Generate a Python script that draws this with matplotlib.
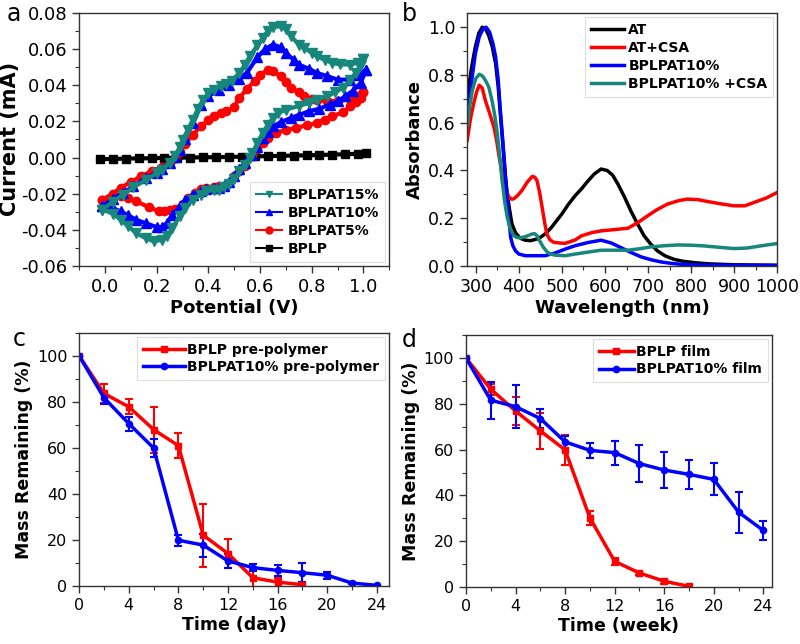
import matplotlib
matplotlib.use("Agg")
import matplotlib.pyplot as plt
from matplotlib.ticker import MultipleLocator

plt.rcParams["font.family"] = "DejaVu Sans"
plt.rcParams["axes.unicode_minus"] = False

TEAL = "#17877b"
RED = "#ff0000"
BLUE = "#0000ff"
BLACK = "#000000"

# ── (a) cyclic voltammetry: forward (upper) and reverse (lower) branches ──
E15_fwd = [-0.01, 0.03, 0.07, 0.11, 0.16, 0.20, 0.22, 0.25, 0.27, 0.29, 0.30, 0.32, 0.34, 0.36, 0.38, 0.40,
           0.42, 0.45, 0.47, 0.49, 0.52, 0.54, 0.56, 0.59, 0.61, 0.63, 0.65, 0.68, 0.70, 0.72, 0.75, 0.77,
           0.80, 0.82, 0.85, 0.88, 0.91, 0.95, 0.98, 1.00]
I15_fwd = [-0.0288, -0.0245, -0.0205, -0.0165, -0.0122, -0.0088, -0.0067, -0.0030, 0.0007, 0.0060, 0.0099,
           0.0150, 0.0210, 0.0270, 0.0320, 0.0355, 0.0375, 0.0395, 0.0405, 0.0425, 0.0468, 0.0510, 0.0560,
           0.0620, 0.0660, 0.0700, 0.0722, 0.0726, 0.0710, 0.0671, 0.0625, 0.0606, 0.0580, 0.0560, 0.0540,
           0.0523, 0.0515, 0.0514, 0.0525, 0.0545]
E15_rev = [1.00, 0.99, 0.97, 0.95, 0.92, 0.89, 0.86, 0.82, 0.79, 0.75, 0.70, 0.67, 0.65, 0.63, 0.61, 0.59,
           0.57, 0.56, 0.54, 0.52, 0.50, 0.48, 0.46, 0.44, 0.42, 0.39, 0.37, 0.34, 0.31, 0.29, 0.26, 0.24,
           0.22, 0.19, 0.16, 0.12, 0.09, 0.06, 0.03, -0.01]
I15_rev = [0.0545, 0.0510, 0.0468, 0.0430, 0.0385, 0.0360, 0.0339, 0.0320, 0.0302, 0.0285, 0.0265, 0.0245,
           0.0219, 0.0180, 0.0136, 0.0080, 0.0025, -0.0005, -0.0040, -0.0075, -0.0120, -0.0145, -0.0165,
           -0.0178, -0.0180, -0.0187, -0.0205, -0.0233, -0.0280, -0.0325, -0.0390, -0.0436, -0.0455, -0.0464,
           -0.0448, -0.0418, -0.0380, -0.0344, -0.0310, -0.0288]

E10_fwd = [-0.01, 0.03, 0.07, 0.11, 0.16, 0.20, 0.22, 0.25, 0.27, 0.29, 0.31, 0.34, 0.37, 0.40, 0.44, 0.48,
           0.52, 0.55, 0.59, 0.62, 0.65, 0.68, 0.70, 0.73, 0.75, 0.79, 0.82, 0.86, 0.90, 0.95, 0.98, 1.01]
I10_fwd = [-0.0270, -0.0230, -0.0196, -0.0158, -0.0113, -0.0085, -0.0063, -0.0030, 0.0003, 0.0040, 0.0100,
           0.0191, 0.0293, 0.0339, 0.0372, 0.0400, 0.0435, 0.0470, 0.0555, 0.0600, 0.0625, 0.0610, 0.0579,
           0.0540, 0.0514, 0.0490, 0.0468, 0.0450, 0.0431, 0.0431, 0.0455, 0.0486]
E10_rev = [1.01, 0.99, 0.96, 0.93, 0.90, 0.87, 0.83, 0.79, 0.75, 0.72, 0.68, 0.65, 0.63, 0.61, 0.59, 0.57,
           0.54, 0.52, 0.50, 0.48, 0.46, 0.44, 0.42, 0.39, 0.37, 0.34, 0.31, 0.29, 0.26, 0.24, 0.22, 0.20,
           0.16, 0.12, 0.09, 0.06, 0.03, -0.01]
I10_rev = [0.0486, 0.0413, 0.0370, 0.0339, 0.0310, 0.0293, 0.0270, 0.0256, 0.0235, 0.0219, 0.0195, 0.0173,
           0.0140, 0.0108, 0.0060, 0.0016, -0.0030, -0.0065, -0.0105, -0.0135, -0.0155, -0.0168, -0.0170,
           -0.0174, -0.0185, -0.0205, -0.0235, -0.0270, -0.0320, -0.0362, -0.0385, -0.0385, -0.0365, -0.0344,
           -0.0320, -0.0298, -0.0280, -0.0270]

E5_fwd = [-0.01, 0.03, 0.06, 0.10, 0.14, 0.18, 0.22, 0.25, 0.27, 0.29, 0.31, 0.34, 0.37, 0.40, 0.42, 0.45,
          0.47, 0.50, 0.52, 0.55, 0.58, 0.60, 0.63, 0.65, 0.68, 0.70, 0.72, 0.75, 0.77, 0.80, 0.82, 0.86,
          0.90, 0.95, 0.98, 1.00]
I5_fwd = [-0.0233, -0.0200, -0.0168, -0.0135, -0.0104, -0.0075, -0.0052, -0.0030, -0.0002, 0.0030, 0.0075,
          0.0125, 0.0173, 0.0205, 0.0228, 0.0245, 0.0256, 0.0280, 0.0330, 0.0380, 0.0425, 0.0459, 0.0483,
          0.0478, 0.0450, 0.0420, 0.0385, 0.0360, 0.0339, 0.0325, 0.0317, 0.0313, 0.0311, 0.0324, 0.0340,
          0.0361]
E5_rev = [1.00, 0.99, 0.97, 0.95, 0.92, 0.88, 0.85, 0.82, 0.78, 0.74, 0.70, 0.66, 0.63, 0.61, 0.59, 0.57,
          0.54, 0.52, 0.50, 0.47, 0.44, 0.42, 0.39, 0.37, 0.35, 0.32, 0.30, 0.27, 0.25, 0.23, 0.21, 0.17,
          0.12, 0.09, 0.06, 0.03, -0.01]
I5_rev = [0.0361, 0.0330, 0.0305, 0.0283, 0.0250, 0.0228, 0.0210, 0.0191, 0.0178, 0.0164, 0.0152, 0.0136,
          0.0110, 0.0081, 0.0045, 0.0007, -0.0045, -0.0075, -0.0105, -0.0150, -0.0160, -0.0163, -0.0168,
          -0.0174, -0.0195, -0.0225, -0.0255, -0.0285, -0.0293, -0.0298, -0.0298, -0.0275, -0.0242, -0.0225,
          -0.0211, -0.0215, -0.0233]

E_bplp = [-0.02, 0.03, 0.08, 0.13, 0.18, 0.23, 0.28, 0.33, 0.38, 0.43, 0.48, 0.53, 0.58, 0.63, 0.68, 0.73,
          0.78, 0.83, 0.88, 0.93, 0.98, 1.01]
I_bplp = [-0.0009, -0.0008, -0.0006, -0.0005, -0.0004, -0.0002, -0.0001, 0.0000, 0.0001, 0.0002, 0.0003,
          0.0005, 0.0006, 0.0008, 0.0009, 0.0011, 0.0012, 0.0014, 0.0016, 0.0018, 0.0021, 0.0025]

# ── (b) UV-vis absorbance ──
wl_at = [280, 290, 299, 307, 315, 322, 330, 338, 346, 352, 357, 361, 365, 369, 373, 378, 384, 392, 400, 407,
         415, 427, 440, 450, 461, 475, 490, 500, 515, 531, 545, 560, 575, 591, 605, 618, 630, 645, 660, 675,
         691, 707, 722, 740, 760, 780, 807, 840, 869, 900, 950, 1000]
abs_at = [0.708, 0.83, 0.918, 0.975, 1.0, 0.995, 0.965, 0.92, 0.848, 0.75, 0.638, 0.55, 0.456, 0.37, 0.302,
          0.24, 0.176, 0.14, 0.122, 0.113, 0.108, 0.106, 0.112, 0.12, 0.134, 0.16, 0.195, 0.218, 0.258, 0.295,
          0.322, 0.355, 0.385, 0.406, 0.40, 0.38, 0.343, 0.29, 0.231, 0.178, 0.126, 0.09, 0.063, 0.042, 0.028,
          0.02, 0.014, 0.009, 0.007, 0.005, 0.004, 0.003]

wl_atcsa = [280, 288, 295, 302, 308, 315, 322, 332, 342, 348, 353, 359, 365, 371, 377, 383, 388, 397, 407,
            419, 431, 437, 442, 448, 454, 460, 465, 472, 481, 495, 508, 531, 545, 570, 591, 620, 653, 675, 699,
            720, 745, 770, 791, 815, 838, 870, 899, 925, 946, 975, 1000]
abs_atcsa = [0.526, 0.62, 0.68, 0.73, 0.757, 0.745, 0.694, 0.64, 0.582, 0.53, 0.47, 0.41, 0.358, 0.315, 0.288,
             0.28, 0.281, 0.295, 0.316, 0.35, 0.375, 0.372, 0.358, 0.31, 0.246, 0.18, 0.134, 0.11, 0.099,
             0.096, 0.095, 0.109, 0.126, 0.14, 0.147, 0.152, 0.158, 0.18, 0.21, 0.235, 0.259, 0.273, 0.280,
             0.278, 0.27, 0.26, 0.252, 0.252, 0.266, 0.285, 0.308]

wl_bplpat = [280, 290, 299, 308, 316, 324, 332, 340, 346, 352, 357, 361, 365, 369, 373, 377, 381, 386, 392,
             400, 415, 440, 461, 485, 508, 531, 560, 591, 615, 637, 660, 684, 707, 730, 753, 776, 820, 900, 1000]
abs_bplpat = [0.624, 0.77, 0.89, 0.96, 0.99, 1.0, 0.98, 0.93, 0.876, 0.78, 0.652, 0.56, 0.47, 0.37, 0.274,
              0.19, 0.12, 0.085, 0.064, 0.05, 0.043, 0.043, 0.043, 0.055, 0.071, 0.085, 0.098, 0.108, 0.096,
              0.077, 0.057, 0.038, 0.026, 0.017, 0.011, 0.007, 0.004, 0.003, 0.002]

wl_bplpatcsa = [280, 286, 292, 300, 308, 316, 323, 330, 338, 344, 349, 355, 361, 367, 373, 380, 388, 395, 403,
                417, 431, 437, 442, 450, 457, 465, 473, 485, 508, 531, 560, 591, 620, 653, 680, 707, 740, 769,
                800, 830, 860, 899, 930, 961, 1000]
abs_bplpatcsa = [0.582, 0.67, 0.736, 0.785, 0.803, 0.795, 0.775, 0.75, 0.69, 0.63, 0.568, 0.47, 0.358, 0.27,
                 0.204, 0.155, 0.127, 0.12, 0.117, 0.124, 0.134, 0.135, 0.127, 0.10, 0.078, 0.06, 0.050, 0.045,
                 0.043, 0.05, 0.058, 0.066, 0.066, 0.066, 0.072, 0.080, 0.085, 0.088, 0.087, 0.084, 0.079,
                 0.073, 0.075, 0.084, 0.094]

# ── (c) pre-polymer degradation (days) ──
day_bplp = [0, 2, 4, 6, 8, 10, 12, 14, 16, 18]
mass_bplp_pre = [100, 83.7, 77.9, 68.0, 61.0, 22.1, 14.1, 3.6, 1.7, 0.6]
err_bplp_pre = [0.5, 4.0, 3.3, 10.0, 5.3, 13.7, 6.2, 4.0, 2.0, 0.5]
day_bplpat = [0, 2, 4, 6, 8, 10, 12, 14, 16, 18, 20, 22, 24]
mass_bplpat_pre = [100, 81.8, 70.6, 60.0, 19.9, 17.8, 10.9, 8.0, 6.8, 5.8, 4.7, 1.3, 0.3]
err_bplpat_pre = [0.5, 2.5, 3.0, 4.0, 2.5, 5.0, 3.0, 1.5, 2.5, 4.2, 1.5, 0.5, 0.3]

# ── (d) film degradation (weeks) ──
week_bplp = [0, 2, 4, 6, 8, 10, 12, 14, 16, 18]
mass_bplp_film = [100, 86.4, 76.9, 68.2, 59.9, 30.2, 11.2, 6.1, 2.5, 0.3]
err_bplp_film = [0.5, 2.5, 6.0, 8.0, 6.5, 3.0, 1.5, 1.0, 1.0, 0.5]
week_bplpat = [0, 2, 4, 6, 8, 10, 12, 14, 16, 18, 20, 22, 24]
mass_bplpat_film = [100, 81.6, 78.8, 73.6, 63.4, 59.7, 58.7, 53.9, 51.1, 49.2, 47.0, 32.7, 24.7]
err_bplpat_film = [0.5, 8.0, 9.5, 4.0, 2.7, 3.3, 5.3, 8.0, 8.0, 6.5, 7.0, 9.0, 4.0]

# ── Figure ──────────────────────────────────────────────────────────
fig = plt.figure(figsize=(8, 6.44), dpi=100)
ax_a = fig.add_axes([0.099, 0.587, 0.3875, 0.393])
ax_b = fig.add_axes([0.584, 0.587, 0.3875, 0.393])
ax_c = fig.add_axes([0.099, 0.090, 0.3875, 0.393])
ax_d = fig.add_axes([0.5825, 0.0885, 0.3825, 0.391])


def style_axes(ax, tick_size):
    for sp in ax.spines.values():
        sp.set_color("#333333")
        sp.set_linewidth(1.0)
    ax.tick_params(which="both", direction="out", top=False, right=False,
                   labelsize=tick_size, color="#333333")
    ax.tick_params(which="major", length=5, width=1)
    ax.tick_params(which="minor", length=3, width=0.8)


def legend(ax, fontsize, **kw):
    leg = ax.legend(prop={"weight": "bold", "size": fontsize}, fancybox=False,
                    framealpha=1, **kw)
    leg.get_frame().set_edgecolor("#dddddd")
    leg.get_frame().set_linewidth(0.8)
    return leg


# (a)
ax_a.plot(E_bplp, I_bplp, color=BLACK, marker="s", ms=6, lw=3, label="BPLP", zorder=2)
ax_a.plot(E5_fwd + E5_rev, I5_fwd + I5_rev, color=RED, marker="o", ms=6, lw=3,
          label="BPLPAT5%", zorder=3)
ax_a.plot(E10_fwd + E10_rev, I10_fwd + I10_rev, color=BLUE, marker="^", ms=6.5, lw=3,
          label="BPLPAT10%", zorder=4)
ax_a.plot(E15_fwd + E15_rev, I15_fwd + I15_rev, color=TEAL, marker="v", ms=6.5, lw=3,
          label="BPLPAT15%", zorder=5)
ax_a.set_xlim(-0.1, 1.1)
ax_a.set_ylim(-0.06, 0.08)
ax_a.xaxis.set_major_locator(MultipleLocator(0.2))
ax_a.xaxis.set_minor_locator(MultipleLocator(0.1))
ax_a.yaxis.set_major_locator(MultipleLocator(0.02))
ax_a.yaxis.set_minor_locator(MultipleLocator(0.01))
ax_a.xaxis.set_major_formatter(plt.FormatStrFormatter("%.1f"))
ax_a.yaxis.set_major_formatter(plt.FormatStrFormatter("%.2f"))
style_axes(ax_a, 13)
ax_a.set_xlabel("Potential (V)", fontsize=13, fontweight="bold", labelpad=2)
ax_a.set_ylabel("Current (mA)", fontsize=15, fontweight="bold", labelpad=1)
h, l = ax_a.get_legend_handles_labels()
leg_a = legend(ax_a, 10, handles=h[::-1], labels=l[::-1], loc="lower right",
               handlelength=1.9, handletextpad=0.4, labelspacing=0.3, borderaxespad=0.3)
for ln in leg_a.get_lines():
    ln.set_linewidth(1.5)
    ln.set_markersize(5)

# (b)
ax_b.plot(wl_at, abs_at, color=BLACK, lw=2.5, label="AT")
ax_b.plot(wl_atcsa, abs_atcsa, color=RED, lw=2.5, label="AT+CSA")
ax_b.plot(wl_bplpat, abs_bplpat, color=BLUE, lw=2.5, label="BPLPAT10%")
ax_b.plot(wl_bplpatcsa, abs_bplpatcsa, color=TEAL, lw=2.5, label="BPLPAT10% +CSA")
ax_b.set_xlim(280, 1000)
ax_b.set_ylim(0, 1.06)
ax_b.xaxis.set_major_locator(MultipleLocator(100))
ax_b.xaxis.set_minor_locator(MultipleLocator(50))
ax_b.yaxis.set_major_locator(MultipleLocator(0.2))
ax_b.yaxis.set_minor_locator(MultipleLocator(0.1))
ax_b.yaxis.set_major_formatter(plt.FormatStrFormatter("%.1f"))
style_axes(ax_b, 12.5)
ax_b.set_xlabel("Wavelength (nm)", fontsize=13, fontweight="bold", labelpad=2)
ax_b.set_ylabel("Absorbance", fontsize=13, fontweight="bold", labelpad=3)
legend(ax_b, 10, loc="upper right", handlelength=2.4, handletextpad=0.3,
       labelspacing=0.3, borderaxespad=0.3)

# (c)
ebc1 = ax_c.errorbar(day_bplp, mass_bplp_pre, yerr=err_bplp_pre, color=RED, marker="s", ms=4.5,
                     lw=2.5, elinewidth=1.5, capsize=3, capthick=1.5)
ebc2 = ax_c.errorbar(day_bplpat, mass_bplpat_pre, yerr=err_bplpat_pre, color=BLUE, marker="o", ms=4.5,
                     lw=2.5, elinewidth=1.5, capsize=3, capthick=1.5)
ax_c.set_xlim(0, 25)
ax_c.set_ylim(0, 110)
ax_c.xaxis.set_major_locator(MultipleLocator(4))
ax_c.xaxis.set_minor_locator(MultipleLocator(2))
ax_c.yaxis.set_major_locator(MultipleLocator(20))
ax_c.yaxis.set_minor_locator(MultipleLocator(10))
style_axes(ax_c, 11.5)
ax_c.set_xlabel("Time (day)", fontsize=12.5, fontweight="bold", labelpad=2)
ax_c.set_ylabel("Mass Remaining (%)", fontsize=12.5, fontweight="bold", labelpad=3)
legend(ax_c, 10, handles=[ebc1[0], ebc2[0]],
       labels=["BPLP pre-polymer", "BPLPAT10% pre-polymer"], loc="upper right",
       handlelength=3.0, handletextpad=0.2, labelspacing=0.25, borderaxespad=0.3)

# (d)
ebd1 = ax_d.errorbar(week_bplp, mass_bplp_film, yerr=err_bplp_film, color=RED, marker="s", ms=4.5,
                     lw=2.5, elinewidth=1.5, capsize=3, capthick=1.5)
ebd2 = ax_d.errorbar(week_bplpat, mass_bplpat_film, yerr=err_bplpat_film, color=BLUE, marker="o", ms=4.5,
                     lw=2.5, elinewidth=1.5, capsize=3, capthick=1.5)
ax_d.set_xlim(0, 24.7)
ax_d.set_ylim(0, 110)
ax_d.xaxis.set_major_locator(MultipleLocator(4))
ax_d.xaxis.set_minor_locator(MultipleLocator(2))
ax_d.yaxis.set_major_locator(MultipleLocator(20))
ax_d.yaxis.set_minor_locator(MultipleLocator(10))
style_axes(ax_d, 11.5)
ax_d.set_xlabel("Time (week)", fontsize=12.5, fontweight="bold", labelpad=2)
ax_d.set_ylabel("Mass Remaining (%)", fontsize=12.5, fontweight="bold", labelpad=3)
legend(ax_d, 10, handles=[ebd1[0], ebd2[0]], labels=["BPLP film", "BPLPAT10% film"],
       loc="upper right", handlelength=2.5, handletextpad=0.2, labelspacing=0.25,
       borderaxespad=0.3)

# panel letters
for x, y, s in [(0.008, 0.997, "a"), (0.502, 0.997, "b"), (0.016, 0.493, "c"), (0.502, 0.490, "d")]:
    fig.text(x, y, s, fontsize=17, ha="left", va="top")

fig.savefig("out.png", dpi=100)
